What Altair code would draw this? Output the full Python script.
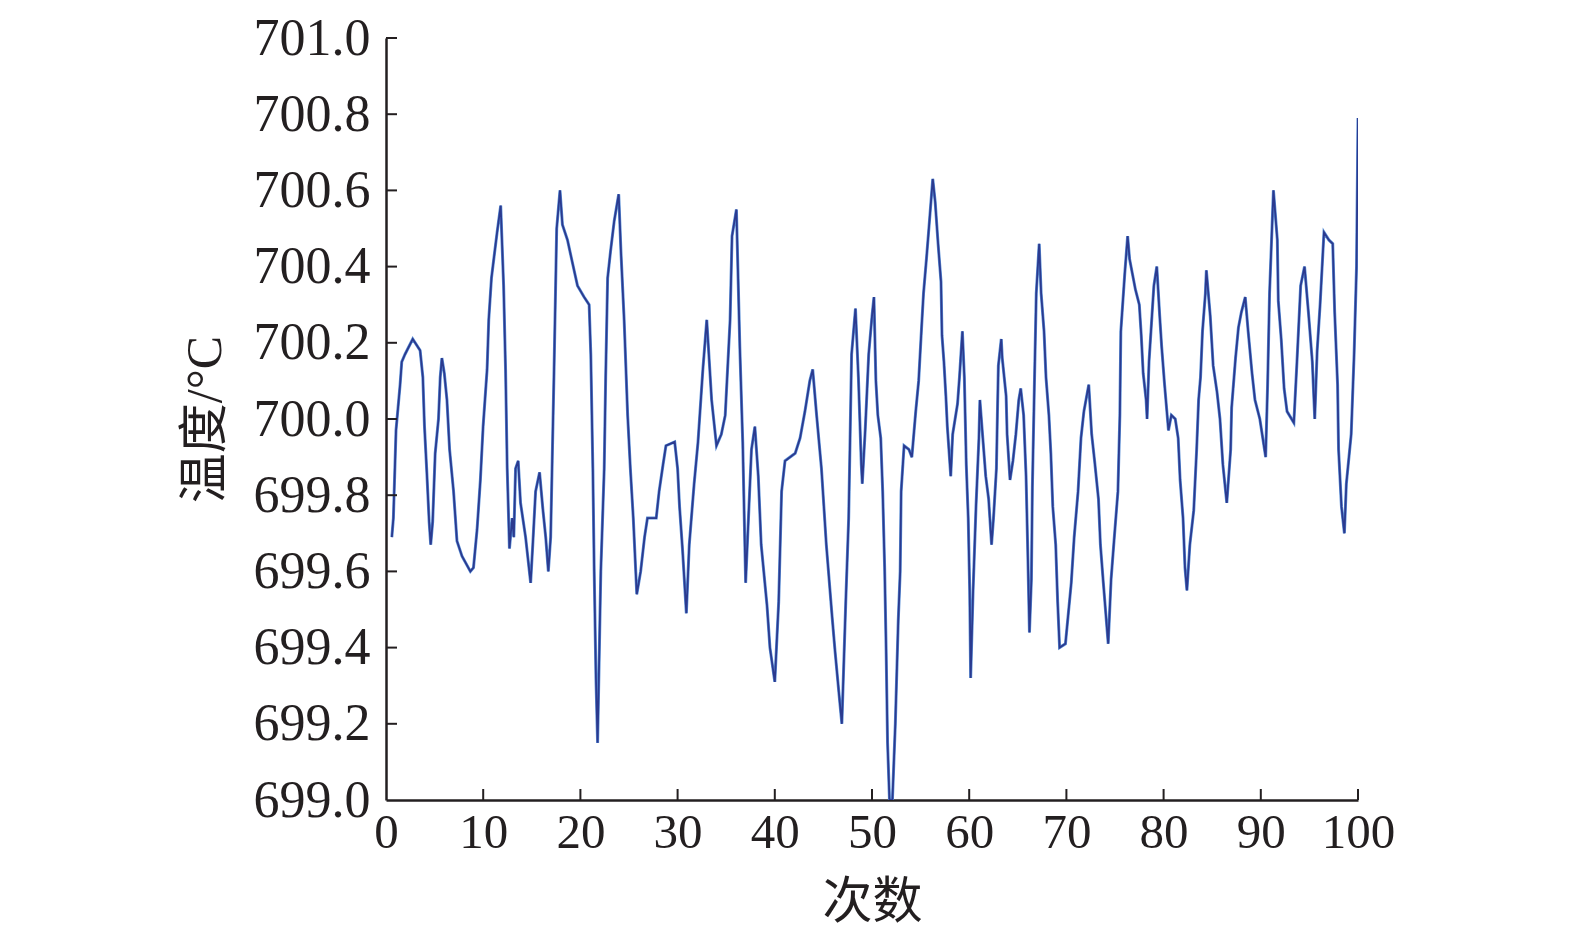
import altair as alt
import pandas as pd

# 次数 (x) and 温度 (y)
x_vals = [0.6, 0.76, 1.03, 1.45, 1.62, 1.96, 2.75, 3.51, 3.79, 3.96, 4.2, 4.44, 4.6, 4.8, 5.06, 5.4, 5.58, 5.75, 6.0, 6.27,
          6.54, 6.95, 7.3, 7.82, 8.68, 9.0, 9.37, 9.71, 9.99, 10.4, 10.57, 10.85, 11.09, 11.43, 11.8, 12.1, 12.3, 12.47, 12.7, 12.98,
          13.15, 13.33, 13.6, 13.84, 14.36, 14.88, 15.1, 15.39, 15.8, 16.15, 16.43, 16.7, 16.94, 17.1, 17.29, 17.56, 17.9, 18.15, 18.67, 19.18,
          19.7, 20.38, 20.9, 21.07, 21.28, 21.42, 21.6, 21.77, 22.1, 22.45, 22.6, 22.8, 23.1, 23.48, 23.94, 24.17, 24.5, 24.86, 25.14, 25.44,
          25.8, 26.2, 26.6, 26.9, 27.8, 28.1, 28.5, 28.8, 29.7, 30.0, 30.2, 30.5, 30.9, 31.2, 31.7, 32.1, 32.6, 33.0, 33.5, 34.0,
          34.5, 34.9, 35.4, 35.6, 36.05, 36.4, 36.7, 36.9, 37.0, 37.6, 37.95, 38.3, 38.6, 39.2, 39.5, 40.0, 40.4, 40.7, 41.05, 42.1,
          42.6, 43.1, 43.6, 43.9, 44.3, 44.8, 45.3, 45.9, 46.2, 46.6, 46.9, 47.3, 47.6, 47.9, 48.3, 48.6, 48.9, 49.0, 49.3, 49.66,
          50.0, 50.2, 50.4, 50.6, 50.9, 51.1, 51.3, 51.45, 51.6, 51.8, 52.1, 52.4, 52.7, 52.9, 53.0, 53.3, 53.8, 54.1, 54.5, 54.8,
          55.1, 55.3, 55.6, 55.85, 56.25, 56.5, 56.8, 57.1, 57.2, 57.4, 57.6, 57.75, 58.1, 58.3, 58.8, 59.0, 59.3, 59.5, 59.7, 59.9,
          60.05, 60.15, 60.4, 60.7, 61.0, 61.1, 61.4, 61.7, 62.0, 62.3, 62.5, 62.8, 62.9, 63.0, 63.3, 63.4, 63.8, 63.9, 64.2, 64.5,
          64.8, 65.1, 65.3, 65.6, 65.85, 66.0, 66.2, 66.4, 66.5, 66.7, 66.9, 67.2, 67.4, 67.7, 67.9, 68.2, 68.4, 68.6, 68.9, 69.1,
          69.3, 69.9, 70.5, 70.8, 71.2, 71.5, 71.8, 72.3, 72.6, 72.9, 73.3, 73.5, 73.8, 74.3, 74.6, 74.9, 75.3, 75.5, 75.6, 76.0,
          76.3, 76.5, 76.8, 77.1, 77.5, 77.7, 77.9, 78.2, 78.3, 78.5, 78.8, 79.0, 79.3, 79.6, 79.8, 80.1, 80.5, 80.8, 81.2, 81.5,
          81.7, 82.0, 82.2, 82.4, 82.7, 83.1, 83.4, 83.6, 83.8, 84.0, 84.3, 84.4, 84.8, 85.1, 85.5, 85.8, 86.1, 86.5, 86.9, 87.0,
          87.4, 87.7, 88.0, 88.4, 88.7, 89.1, 89.4, 89.9, 90.5, 90.7, 90.9, 91.3, 91.7, 91.8, 92.1, 92.4, 92.7, 93.4, 93.7, 94.1,
          94.5, 94.9, 95.3, 95.55, 95.8, 96.1, 96.5, 97.0, 97.4, 97.6, 97.9, 98.0, 98.3, 98.6, 98.8, 99.3, 99.6, 99.85, 100.0]

y_vals = [699.69, 699.74, 699.97, 700.09, 700.15, 700.17, 700.21, 700.18, 700.11, 699.98, 699.86, 699.73, 699.67, 699.73, 699.91, 700.00, 700.11, 700.16, 700.12, 700.05,
          699.92, 699.81, 699.68, 699.64, 699.60, 699.61, 699.71, 699.84, 699.98, 700.13, 700.26, 700.37, 700.42, 700.49, 700.56, 700.35, 700.13, 699.87, 699.66, 699.74,
          699.69, 699.87, 699.89, 699.78, 699.69, 699.57, 699.67, 699.81, 699.86, 699.76, 699.69, 699.60, 699.69, 699.89, 700.13, 700.50, 700.60, 700.51, 700.47, 700.41,
          700.35, 700.32, 700.30, 700.17, 699.87, 699.60, 699.32, 699.15, 699.60, 699.87, 700.11, 700.37, 700.44, 700.52, 700.59, 700.44, 700.26, 700.01, 699.87, 699.74,
          699.54, 699.60, 699.69, 699.74, 699.74, 699.81, 699.88, 699.93, 699.94, 699.87, 699.77, 699.66, 699.49, 699.67, 699.83, 699.94, 700.13, 700.26, 700.05, 699.93,
          699.96, 700.01, 700.26, 700.48, 700.55, 700.19, 699.94, 699.69, 699.57, 699.92, 699.98, 699.85, 699.67, 699.51, 699.40, 699.31, 699.52, 699.81, 699.89, 699.91,
          699.95, 700.02, 700.10, 700.13, 700.01, 699.87, 699.67, 699.48, 699.39, 699.28, 699.20, 699.52, 699.74, 700.17, 700.29, 700.11, 699.88, 699.83, 699.97, 700.17,
          700.27, 700.32, 700.10, 700.01, 699.95, 699.81, 699.61, 699.40, 699.15, 699.00, 699.00, 699.20, 699.47, 699.60, 699.81, 699.93, 699.92, 699.90, 700.02, 700.10,
          700.24, 700.33, 700.42, 700.50, 700.63, 700.57, 700.46, 700.36, 700.22, 700.15, 700.06, 699.98, 699.85, 699.96, 700.04, 700.11, 700.23, 700.11, 699.88, 699.74,
          699.55, 699.32, 699.55, 699.77, 699.95, 700.05, 699.95, 699.85, 699.79, 699.67, 699.74, 699.87, 700.01, 700.14, 700.21, 700.16, 700.06, 699.96, 699.84, 699.89,
          699.96, 700.05, 700.08, 700.01, 699.85, 699.68, 699.44, 699.58, 699.82, 700.08, 700.33, 700.46, 700.33, 700.23, 700.11, 700.01, 699.91, 699.77, 699.67, 699.52,
          699.40, 699.41, 699.57, 699.69, 699.81, 699.95, 700.02, 700.09, 699.96, 699.89, 699.79, 699.67, 699.57, 699.41, 699.58, 699.68, 699.81, 700.01, 700.23, 700.38,
          700.48, 700.42, 700.38, 700.34, 700.30, 700.22, 700.12, 700.05, 700.00, 700.15, 700.27, 700.35, 700.40, 700.27, 700.19, 700.09, 699.97, 700.01, 700.00, 699.95,
          699.84, 699.74, 699.61, 699.55, 699.67, 699.76, 699.92, 700.05, 700.11, 700.23, 700.33, 700.39, 700.27, 700.14, 700.07, 700.00, 699.88, 699.78, 699.92, 700.03,
          700.16, 700.24, 700.28, 700.32, 700.23, 700.12, 700.05, 700.00, 699.90, 700.09, 700.33, 700.60, 700.47, 700.31, 700.21, 700.08, 700.02, 699.99, 700.14, 700.35,
          700.40, 700.28, 700.15, 700.00, 700.18, 700.30, 700.49, 700.47, 700.46, 700.28, 700.09, 699.92, 699.77, 699.70, 699.83, 699.96, 700.17, 700.40, 700.79]

x_ticks = [0, 10, 20, 30, 40, 50, 60, 70, 80, 90, 100]
y_ticks = [699.0, 699.2, 699.4, 699.6, 699.8, 700.0, 700.2, 700.4, 700.6, 700.8, 701.0]

x_title = "次数"
y_title = "温度/°C"

df = pd.DataFrame({"x": x_vals, "y": y_vals})
xt = pd.DataFrame({"t": x_ticks[1:]})
yt = pd.DataFrame({"t": y_ticks[1:]})

W, H = 972, 762
FONT = "Liberation Serif, Noto Sans CJK SC"
AX = "#231f20"

xscale = alt.Scale(domain=[0, 100], nice=False, zero=False)
yscale = alt.Scale(domain=[699, 701], nice=False, zero=False)

under = alt.Chart(df).mark_line(color="#5b8fd6", strokeWidth=3, clip=True).encode(
    x=alt.X("x:Q", scale=xscale, title=x_title,
            axis=alt.Axis(values=x_ticks, format="d", tickSize=0, labelPadding=8,
                          labelFont=FONT, labelFontSize=49, labelColor=AX,
                          domainColor=AX, domainWidth=2.5, grid=False,
                          titleFont=FONT, titleFontSize=50, titleFontWeight="normal",
                          titleColor=AX, titleBaseline="middle", titleY=102,
                          labelFlush=False, labelOverlap=False)),
    y=alt.Y("y:Q", scale=yscale, title=y_title,
            axis=alt.Axis(values=y_ticks, format=".1f", tickSize=0, labelPadding=16,
                          labelFont=FONT, labelFontSize=52, labelColor=AX,
                          domainColor=AX, domainWidth=2.5, grid=False,
                          titleFont=FONT, titleFontSize=50, titleFontWeight="normal",
                          titleColor=AX, titleBaseline="middle", titleX=-181,
                          labelFlush=False, labelOverlap=False)),
)
line = alt.Chart(df).mark_line(color="#2b3a8f", strokeWidth=1.8, clip=True).encode(
    x=alt.X("x:Q", scale=xscale), y=alt.Y("y:Q", scale=yscale)
)

ytick = alt.Chart(yt).mark_rule(color=AX, strokeWidth=2).encode(
    y=alt.Y("t:Q", scale=yscale), x=alt.value(0), x2=alt.value(11)
)
xtick = alt.Chart(xt).mark_rule(color=AX, strokeWidth=2).encode(
    x=alt.X("t:Q", scale=xscale), y=alt.value(H), y2=alt.value(H - 11)
)

chart = alt.layer(under, line, ytick, xtick).properties(
    width=W, height=H,
    background="white",
    autosize=alt.AutoSizeParams(type="none"),
    padding={"left": 378, "top": 30, "right": 180, "bottom": 130},
).configure_view(strokeWidth=0, stroke="transparent")

chart.save("out.html", embed_options={"renderer": "svg", "actions": False})
